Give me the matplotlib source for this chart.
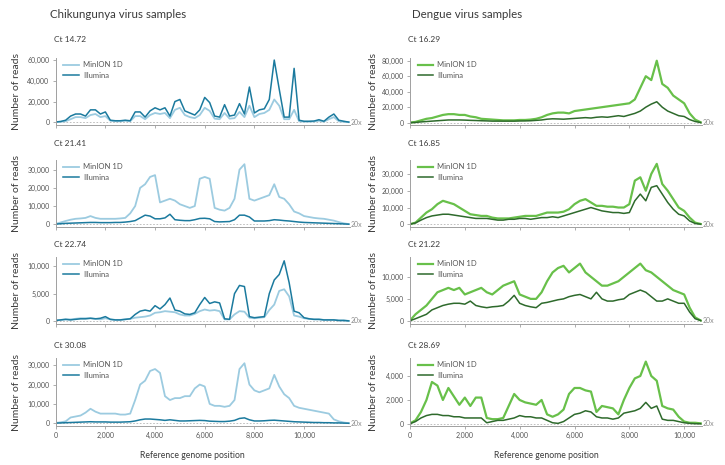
import numpy as np
import matplotlib
matplotlib.use('Agg')
import matplotlib.pyplot as plt

plt.rcParams['font.family'] = ['Lato', 'DejaVu Sans']

# Genome positions (sampled every 200 bp)
chik_pos = np.arange(0, 11801, 200)
den_pos = np.arange(0, 10601, 200)

# Read depth in thousands, Chikungunya samples
chik_min_1 = [0.3, 0.5, 1, 3, 5, 5, 4, 7, 8, 5,
              6, 1.5, 1, 1, 1.5, 1, 6, 6, 3, 7,
              9, 8, 9, 4, 12, 14, 7, 5, 4, 7,
              14, 11, 3.5, 3, 9, 3.5, 4, 10, 5, 16,
              5, 8, 9, 12, 22, 16, 3, 3, 12, 1,
              0.6, 0.6, 0.8, 1.5, 0.6, 3, 5, 1, 0.5, 0.1]
chik_ill_1 = [0.3, 0.8, 2, 6, 8, 8, 6, 12, 12, 8,
              10, 2, 1.5, 1.5, 2, 1.5, 10, 10, 5, 11,
              14, 12, 14, 6, 20, 22, 11, 9, 7, 12,
              24, 19, 6, 5, 17, 6, 7, 18, 8, 34,
              9, 12, 13, 22, 60, 32, 5, 5, 52, 2,
              1, 1, 1.2, 2.5, 1, 5, 8, 2, 1, 0.2]
chik_min_2 = [0.2, 1, 1.8, 2.5, 3, 3.2, 3.5, 4.5, 3.5, 3,
              3, 3, 3, 3.2, 3.5, 6, 10, 20, 22, 26,
              27, 12, 13, 14, 13, 11, 10, 9, 10, 25,
              26, 25, 9, 8, 7.5, 9, 14, 30, 33, 14,
              13, 14, 15, 16, 22, 15, 14, 11, 7, 6,
              4.5, 4, 3.5, 3.2, 3, 2.5, 2, 1.2, 0.5, 0.1]
chik_ill_2 = [0.1, 0.3, 0.5, 0.6, 0.7, 0.8, 0.9, 1, 1, 0.9,
              0.9, 0.9, 1, 1, 1.2, 1.5, 2, 3.5, 5, 4.5,
              3, 3, 3.5, 5.5, 2.5, 2.2, 2, 2, 2.5, 3.2,
              3.3, 3, 1.5, 1.3, 1.4, 1.5, 2.5, 5, 5, 4,
              1.8, 1.8, 1.8, 2, 2.5, 2.3, 2, 1.8, 1.5, 1.2,
              1, 0.9, 0.8, 0.7, 0.6, 0.5, 0.4, 0.3, 0.2, 0.05]
chik_min_3 = [0.1, 0.2, 0.3, 0.3, 0.4, 0.5, 0.5, 0.5, 0.4, 0.3,
              0.5, 0.3, 0.2, 0.2, 0.3, 0.4, 0.6, 0.7, 0.8, 1,
              1.5, 1.6, 1.8, 1.7, 1.6, 1.2, 1, 1, 1.3, 1.8,
              2.1, 1.9, 2, 1.8, 0.3, 0.3, 1.2, 1.8, 1.7, 0.6,
              0.5, 0.6, 0.7, 2, 3, 5.5, 5.8, 4.5, 1, 0.8,
              0.5, 0.4, 0.3, 0.3, 0.2, 0.2, 0.2, 0.1, 0.1, 0.02]
chik_ill_3 = [0.1, 0.2, 0.3, 0.2, 0.3, 0.4, 0.4, 0.5, 0.4, 0.5,
              0.8, 0.3, 0.2, 0.2, 0.3, 0.4, 1.2, 1.8, 2, 1.8,
              2.8, 2.2, 3, 4.2, 2, 1.8, 1.3, 1.2, 1.5, 3,
              4.3, 3.2, 3.5, 3.3, 0.4, 0.3, 5, 6.5, 6.3, 0.8,
              0.6, 0.7, 0.8, 5, 7.5, 8.5, 11, 7, 1.8, 1.5,
              0.6, 0.4, 0.3, 0.3, 0.2, 0.2, 0.2, 0.1, 0.1, 0.02]
chik_min_4 = [0.2, 0.5, 1, 3, 3.5, 4, 5.5, 7.5, 6, 5,
              5, 5, 5, 4.5, 4.5, 5, 12, 20, 22, 27,
              28, 26, 14, 12, 13, 13, 14, 14, 18, 20,
              19, 10, 9, 9, 8.5, 9, 12, 28, 31, 20,
              17, 16, 17, 18, 25, 19, 15, 13, 9, 8,
              7.5, 7, 6.5, 6, 5.5, 5, 2, 1, 0.4, 0.05]
chik_ill_4 = [0.1, 0.2, 0.3, 0.4, 0.5, 0.6, 0.7, 0.8, 0.7, 0.7,
              0.7, 0.6, 0.6, 0.6, 0.7, 0.8, 1.2, 1.8, 2.2, 2.2,
              2, 1.8, 1.5, 1.8, 1.5, 1.2, 1.2, 1.3, 1.4, 1.5,
              1.4, 1.1, 1, 0.9, 0.9, 1.1, 1.5, 2.5, 2.8, 1.8,
              1.2, 1.2, 1.3, 1.5, 1.6, 1.4, 1.2, 1, 0.8, 0.7,
              0.6, 0.5, 0.4, 0.4, 0.3, 0.3, 0.2, 0.2, 0.1, 0.02]

# Read depth in thousands, Dengue samples
den_min_1 = [0.1, 1, 3, 5, 6, 8, 10, 11, 11, 10,
             10, 8, 7, 5, 4.5, 4, 3.5, 3, 3, 3,
             3.5, 3.5, 4, 5, 7, 10, 12, 13, 13, 12,
             15, 16, 17, 18, 19, 20, 21, 22, 23, 24,
             25, 30, 45, 60, 55, 80, 50, 45, 35, 30,
             25, 12, 4, 0.5]
den_ill_1 = [0.05, 0.3, 1, 1.5, 2, 2.5, 3, 3.5, 3.5, 3.5,
             3.3, 3, 2.8, 2.5, 2.3, 2, 2, 2, 2, 2,
             2.2, 2.3, 2.5, 3, 3.5, 4.5, 5, 4.8, 4.5, 5,
             5.5, 6, 6.5, 6, 7, 7.5, 7, 8, 9, 8,
             10, 12, 15, 20, 24, 27, 20, 15, 12, 9,
             8, 4, 1.5, 0.2]
den_min_2 = [0.1, 1, 4, 7, 9, 12, 14, 13, 12, 10,
             8, 6, 5.5, 5, 5, 4, 3.5, 3.5, 3.5, 4,
             4.5, 5, 5, 5, 6, 7, 7, 7, 7.5, 9,
             12, 14, 15, 13, 11, 11, 10.5, 10.5, 10, 10,
             12, 26, 28, 20, 30, 36, 24, 20, 15, 10,
             8, 4, 1, 0.2]
den_ill_2 = [0.05, 0.8, 2.5, 4, 5, 5.5, 6, 6, 5.5, 5,
             4.5, 4, 3.5, 3.5, 3.5, 3, 2.5, 2.5, 3, 3,
             3.5, 3.5, 3, 3.5, 4, 4, 4.5, 4, 5, 6,
             7, 8, 9, 10, 9, 8, 7.5, 7, 7, 6.5,
             7, 14, 18, 14, 22, 23, 18, 13, 9, 6,
             5, 2, 0.5, 0.1]
den_min_3 = [0.1, 1.5, 2.5, 3.5, 5, 6.5, 7, 7.5, 7, 7.5,
             6, 6.5, 7, 7.5, 6.5, 6, 7, 8, 8.5, 9,
             6, 5.5, 5, 5, 6.5, 9, 11, 12, 12.5, 11,
             12, 13, 11, 10, 9, 8, 8, 8.5, 9, 10,
             11, 12, 13, 11.5, 11, 10, 9, 8, 7, 6.5,
             6, 3, 0.8, 0.1]
den_ill_3 = [0.05, 0.5, 1, 1.5, 2.5, 3, 3.5, 3.8, 4, 4,
             3.8, 4.5, 3.5, 3.2, 3, 3.2, 3.3, 3.5, 4.5, 5.8,
             4, 3.5, 3.2, 3, 4, 4.2, 4.5, 4.8, 5, 5.5,
             5.8, 6, 5.5, 5, 6.5, 5, 4.5, 4.5, 4.8, 5,
             6, 6.5, 7, 6.5, 5.5, 4.5, 4.5, 5, 4.5, 4,
             4, 2, 0.5, 0.1]
den_min_4 = [0.05, 0.3, 1, 2, 3.5, 3.2, 2, 3, 2.3, 1.6,
             2.2, 1.5, 2.2, 2.2, 0.5, 0.4, 0.4, 0.5, 1.5, 2.5,
             2, 1.8, 1.7, 1.6, 2, 0.8, 0.6, 0.8, 1.2, 2.5,
             3, 3, 2.8, 2.7, 1, 1.5, 1.4, 1.3, 0.8, 2,
             3, 3.8, 4, 5.2, 4, 3.6, 1.5, 1.3, 1.2, 0.6,
             0.2, 0.1, 0.1, 0.05]
den_ill_4 = [0.02, 0.2, 0.5, 0.7, 0.8, 0.8, 0.7, 0.7, 0.6, 0.6,
             0.5, 0.5, 0.5, 0.5, 0.1, 0.2, 0.3, 0.3, 0.4, 0.5,
             0.7, 0.6, 0.6, 0.5, 0.5, 0.3, 0.1, 0.05, 0.2, 0.5,
             0.8, 0.9, 1.1, 1, 0.6, 0.5, 0.5, 0.4, 0.5, 0.9,
             1, 1.1, 1.3, 1.8, 1.3, 1.5, 0.4, 0.3, 0.3, 0.2,
             0.1, 0.05, 0.02, 0.02]

chik_ct = ['Ct 14.72', 'Ct 21.41', 'Ct 22.74', 'Ct 30.08']
den_ct = ['Ct 16.29', 'Ct 16.85', 'Ct 21.22', 'Ct 28.69']

chik_yticks = [[0, 20000, 40000, 60000], [0, 10000, 20000, 30000],
               [0, 5000, 10000], [0, 10000, 20000, 30000]]
den_yticks = [[0, 20000, 40000, 60000, 80000], [0, 10000, 20000, 30000],
              [0, 5000, 10000], [0, 2000, 4000]]
chik_ylim = [(-2600, 62000), (-1500, 35300), (-550, 11700), (-1400, 33700)]
den_ylim = [(-3000, 83500), (-1600, 38300), (-700, 14500), (-170, 5500)]
xticks = [0, 2000, 4000, 6000, 8000, 10000]

W, H = 725, 465
fig = plt.figure(figsize=(W / 100, H / 100), dpi=100)

rows = [(58, 125), (160, 227), (257, 324), (358, 426)]
title_y = [40, 143, 244, 345]

txt = '#3a3a3a'
grey = '#8c8c8c'


def px_rect(x0, x1, yt, yb):
    return [x0 / W, 1 - yb / H, (x1 - x0) / W, (yb - yt) / H]


def draw_column(x0, x1, xmax, pos, minion, illumina, ct, yticks, ylims,
                c_min, c_ill, lw_min, ylab_x):
    for i in range(4):
        yt, yb = rows[i]
        ax = fig.add_axes(px_rect(x0, x1, yt, yb))
        ax.plot(pos, np.array(minion[i]) * 1000, color=c_min, lw=lw_min,
                label='MinION 1D')
        ax.plot(pos, np.array(illumina[i]) * 1000, color=c_ill, lw=1.1,
                label='Illumina')
        # 20x coverage threshold
        ax.axhline(20, color='#b5b5b5', lw=0.6, ls=(0, (2, 2)), zorder=0)
        ax.text(1.003, 20, '20x', transform=ax.get_yaxis_transform(),
                fontsize=5, color=grey, va='center', ha='left')
        ax.set_xlim(0, xmax)
        ax.set_ylim(*ylims[i])
        ax.set_yticks(yticks[i])
        ax.set_yticklabels([f'{v:,}' for v in yticks[i]])
        ax.set_xticks(xticks)
        if i == 3:
            ax.set_xticklabels([f'{v:,}' for v in xticks])
        else:
            ax.set_xticklabels([])
        for s in ['top', 'right']:
            ax.spines[s].set_visible(False)
        for s in ['left', 'bottom']:
            ax.spines[s].set_color('#a0a0a0')
            ax.spines[s].set_linewidth(0.7)
        ax.tick_params(axis='both', length=2.5, width=0.6, color='#a0a0a0',
                       labelsize=5, labelcolor='#555555', pad=2)
        leg = ax.legend(loc='upper left', frameon=False, fontsize=5.5,
                        handlelength=2.0, handletextpad=0.6,
                        borderaxespad=0.2,
                        bbox_to_anchor=(0.01, 1.02), labelspacing=0.5)
        for t in leg.get_texts():
            t.set_color('#555555')
        fig.text((x0 - 2) / W, 1 - title_y[i] / H,
                 ct[i], fontsize=6, color=txt, va='center', ha='left')
        fig.text(ylab_x / W, 1 - (yt + yb) / 2 / H, 'Number of reads',
                 rotation=90, fontsize=7.5, color=txt, va='center', ha='center')
    fig.text((x0 + x1 - 20) / 2 / W, 1 - 455 / H, 'Reference genome position',
             fontsize=6.2, color=txt, ha='center', va='center')


# Left column: Chikungunya
draw_column(55.7, 350, 11850, chik_pos,
            [chik_min_1, chik_min_2, chik_min_3, chik_min_4],
            [chik_ill_1, chik_ill_2, chik_ill_3, chik_ill_4],
            chik_ct, chik_yticks, chik_ylim, '#9ccbe0', '#1b7a9e', 1.3, 17)

# Right column: Dengue
draw_column(410, 702, 10650, den_pos,
            [den_min_1, den_min_2, den_min_3, den_min_4],
            [den_ill_1, den_ill_2, den_ill_3, den_ill_4],
            den_ct, den_yticks, den_ylim, '#68c04a', '#2e6a2c', 1.6, 373)

fig.text(50 / W, 1 - 14 / H, 'Chikungunya virus samples', fontsize=8.3,
         color=txt, va='center', ha='left')
fig.text(412 / W, 1 - 14 / H, 'Dengue virus samples', fontsize=8.3,
         color=txt, va='center', ha='left')

fig.savefig('out.png', dpi=100)
